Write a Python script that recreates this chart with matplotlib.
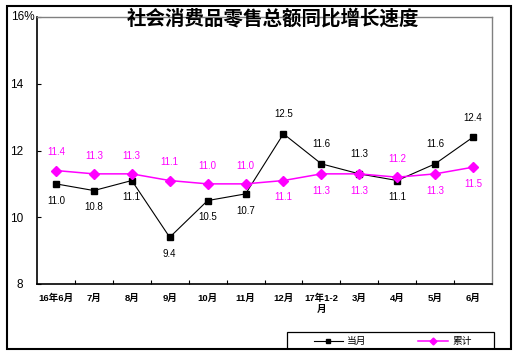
import matplotlib
matplotlib.use("Agg")
import matplotlib.pyplot as plt
import matplotlib.transforms as mtransforms
from matplotlib.lines import Line2D
from matplotlib.patches import Rectangle

plt.rcParams['font.family'] = ['Liberation Sans', 'Noto Sans CJK SC']

# Data
months = ["16年6月", "7月", "8月", "9月", "10月", "11月", "12月",
          "17年1-2\n月", "3月", "4月", "5月", "6月"]
monthly = [11.0, 10.8, 11.1, 9.4, 10.5, 10.7, 12.5, 11.6, 11.3, 11.1, 11.6, 12.4]
cumulative = [11.4, 11.3, 11.3, 11.1, 11.0, 11.0, 11.1, 11.3, 11.3, 11.2, 11.3, 11.5]
monthly_above = [False, False, False, False, False, False, True, True, True, False, True, True]
cumulative_above = [True, True, True, True, True, True, False, False, False, True, False, False]
y_ticks = [8, 10, 12, 14, 16]

title = "社会消费品零售总额同比增长速度"
legend_labels = ["当月", "累计"]

W, H = 519, 357
MAGENTA = "#FF00FF"


def fx(px):
    return px / W


def fy(py):
    return 1 - py / H


fig = plt.figure(figsize=(W / 100, H / 100), dpi=100)
ax = fig.add_axes([fx(37), fy(284), fx(492) - fx(37), fy(17) - fy(284)])

x = list(range(len(months)))
line_m, = ax.plot(x, monthly, color="black", lw=0.8, marker="s", markersize=5,
                  markerfacecolor="black", markeredgecolor="black", zorder=3)
line_c, = ax.plot(x, cumulative, color=MAGENTA, lw=1.1, marker="D", markersize=5,
                  markerfacecolor=MAGENTA, markeredgecolor=MAGENTA, zorder=4)

# data labels
for i, v in enumerate(monthly):
    dy = 14 if monthly_above[i] else -12
    ax.annotate(f"{v:.1f}", (i, v), xytext=(0, dy), textcoords="offset points",
                ha="center", va="center", fontsize=7, color="black")
for i, v in enumerate(cumulative):
    dy = 13 if cumulative_above[i] else -12
    ax.annotate(f"{v:.1f}", (i, v), xytext=(0, dy), textcoords="offset points",
                ha="center", va="center", fontsize=7, color=MAGENTA)

ax.set_xlim(-0.5, len(months) - 0.5)
ax.set_ylim(8, 16)

# y axis
ax.set_yticks(y_ticks)
ax.set_yticklabels([str(t) if t != 16 else "" for t in y_ticks], fontsize=8.5)
ax.tick_params(axis="y", direction="in", length=3, pad=10, width=0.8)
blend = mtransforms.blended_transform_factory(ax.transAxes, ax.transData)
ax.annotate("16%", xy=(0, 16), xycoords=blend, xytext=(-19, 0),
            textcoords="offset points", ha="left", va="center", fontsize=8.5)

# x axis
ax.set_xticks(x)
ax.set_xticklabels(months, fontsize=6.8, fontweight="bold", linespacing=1.2)
ax.set_xticks([i + 0.5 for i in range(len(months) - 1)], minor=True)
ax.tick_params(axis="x", which="major", length=0, pad=7)
ax.tick_params(axis="x", which="minor", direction="in", length=3, width=0.8)
ax.tick_params(axis="y", which="minor", length=0)

for side in ["left", "bottom"]:
    ax.spines[side].set_color("black")
    ax.spines[side].set_linewidth(1.2)
for side in ["top", "right"]:
    ax.spines[side].set_color("#808080")
    ax.spines[side].set_linewidth(1.0)

fig.text(fx(273), fy(19), title, ha="center", va="center", fontsize=14,
         fontweight="bold", zorder=6)

# legend box (clipped by the outer frame at the bottom)
fig.patches.append(Rectangle((fx(287), fy(360)), fx(494) - fx(287), fy(332) - fy(360),
                             transform=fig.transFigure, facecolor="white",
                             edgecolor="black", lw=0.9, zorder=5))
ly = fy(341)
for (x0, x1, xm, xt), ln, lab in zip([(314, 343, 328, 347), (418, 448, 433, 452)],
                                      [line_m, line_c], legend_labels):
    fig.lines.append(Line2D([fx(x0), fx(x1)], [ly, ly], transform=fig.transFigure,
                            color=ln.get_color(), lw=ln.get_linewidth(), zorder=6))
    fig.lines.append(Line2D([fx(xm)], [ly], transform=fig.transFigure,
                            marker=ln.get_marker(), markersize=3.5,
                            color=ln.get_color(), zorder=6))
    fig.text(fx(xt), ly, lab, ha="left", va="center", fontsize=7, zorder=6)

# white cover below frame and the outer frame
fig.patches.append(Rectangle((0, 0), 1, fy(349), transform=fig.transFigure,
                             facecolor="white", edgecolor="none", zorder=8))
fig.patches.append(Rectangle((fx(7), fy(349)), fx(511) - fx(7), fy(6) - fy(349),
                             transform=fig.transFigure, facecolor="none",
                             edgecolor="black", lw=1.5, zorder=9))

fig.savefig("out.png", dpi=100)
